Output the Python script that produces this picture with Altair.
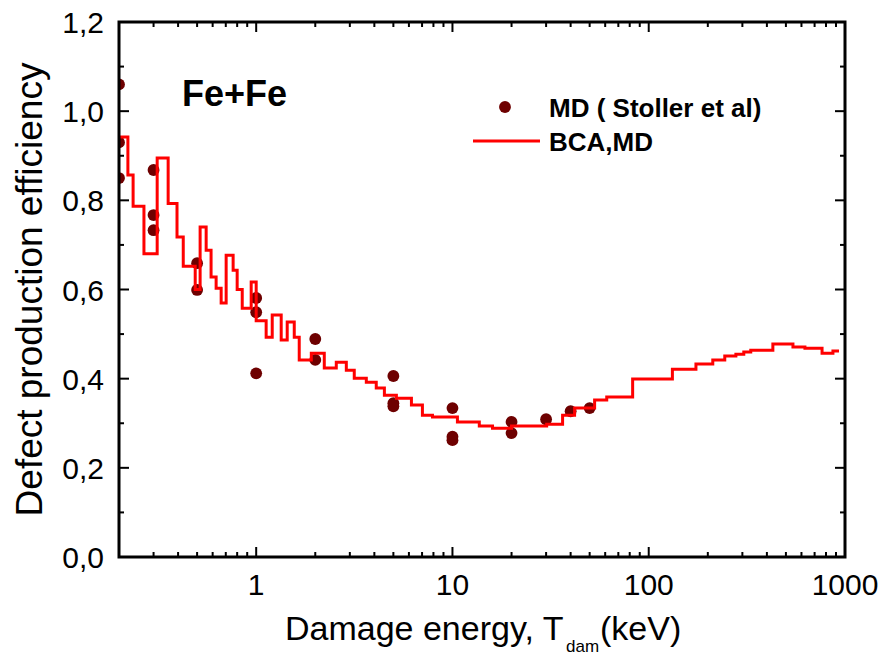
import altair as alt
import pandas as pd

# MD cascade results (Stoller et al.), damage energy in keV
md_energy = [0.2, 0.2, 0.2, 0.3, 0.3, 0.3, 0.5, 0.5, 1, 1, 1, 2, 2,
             5, 5, 5, 10, 10, 10, 20, 20, 30, 40, 50]
md_eff = [1.06, 0.93, 0.85, 0.868, 0.767, 0.733, 0.659, 0.599, 0.581, 0.549, 0.412,
          0.489, 0.442, 0.406, 0.345, 0.338, 0.334, 0.27, 0.262, 0.303, 0.278,
          0.309, 0.327, 0.334]

# BCA,MD curve: left edge of each energy bin (keV) and the efficiency in that bin
bca_energy = [0.2, 0.222, 0.236, 0.268, 0.313, 0.356, 0.395, 0.425, 0.489, 0.518,
              0.556, 0.589, 0.625, 0.663, 0.703, 0.763, 0.800, 0.849, 0.943, 1.0,
              1.124, 1.207, 1.341, 1.439, 1.563, 1.657, 1.909, 2.223, 2.559, 2.879,
              3.16, 3.64, 4.09, 4.50, 5.18, 6.18, 7.03, 7.91, 10.6, 13.7,
              16.0, 20.0, 30.2, 36.4, 41.9, 53.0, 61.1, 82.8, 132, 174,
              212, 244, 278, 305, 331, 429, 543, 625, 764, 868, 932]
bca_eff = [0.942, 0.857, 0.787, 0.68, 0.895, 0.793, 0.718, 0.652, 0.6, 0.74,
           0.688, 0.628, 0.603, 0.57, 0.677, 0.643, 0.6, 0.558, 0.617, 0.53,
           0.493, 0.543, 0.487, 0.527, 0.493, 0.442, 0.457, 0.424, 0.437, 0.419,
           0.401, 0.392, 0.379, 0.363, 0.356, 0.341, 0.318, 0.314, 0.303, 0.294,
           0.289, 0.294, 0.298, 0.318, 0.334, 0.352, 0.359, 0.399, 0.421, 0.433,
           0.442, 0.451, 0.455, 0.46, 0.464, 0.478, 0.471, 0.468, 0.457, 0.462, 0.462]

# axis ticks and labels
x_labels = [1, 10, 100, 1000]
x_label_text = ["1", "10", "100", "1000"]
x_minor = [0.3, 0.4, 0.5, 0.6, 0.7, 0.8, 0.9,
           2, 3, 4, 5, 6, 7, 8, 9,
           20, 30, 40, 50, 60, 70, 80, 90,
           200, 300, 400, 500, 600, 700, 800, 900]
y_labels = [0.0, 0.2, 0.4, 0.6, 0.8, 1.0, 1.2]
y_label_text = ["0,0", "0,2", "0,4", "0,6", "0,8", "1,0", "1,2"]
y_minor = [0.1, 0.3, 0.5, 0.7, 0.9, 1.1]

W, H = 726, 535
FONT = "Liberation Sans"
MAROON = "#6e0000"
RED = "#ff0000"

xs = alt.Scale(type="log", domain=[0.2, 1000], nice=False)
ys = alt.Scale(domain=[0, 1.2], nice=False, zero=False)

md = pd.DataFrame({"E": md_energy, "eff": md_eff})
bca = pd.DataFrame({"E": bca_energy, "eff": bca_eff})
one = pd.DataFrame({"k": [0]})

points = alt.Chart(md).mark_circle(size=140, color=MAROON, opacity=1, clip=True).encode(
    x=alt.X("E:Q", scale=xs, axis=None),
    y=alt.Y("eff:Q", scale=ys, axis=None),
)

line = alt.Chart(bca).mark_line(interpolate="step-after", color=RED, strokeWidth=3,
                                clip=True).encode(
    x=alt.X("E:Q", scale=xs, axis=None),
    y=alt.Y("eff:Q", scale=ys, axis=None),
)


def x_ticks(vals, length):
    df = pd.DataFrame({"v": vals})
    base = alt.Chart(df).mark_rule(color="black", strokeWidth=2)
    bottom = base.encode(x=alt.X("v:Q", scale=xs, axis=None),
                         y=alt.value(H), y2=alt.value(H - length))
    top = base.encode(x=alt.X("v:Q", scale=xs, axis=None),
                      y=alt.value(0), y2=alt.value(length))
    return [bottom, top]


def y_ticks(vals, length):
    df = pd.DataFrame({"v": vals})
    base = alt.Chart(df).mark_rule(color="black", strokeWidth=2)
    left = base.encode(y=alt.Y("v:Q", scale=ys, axis=None),
                       x=alt.value(0), x2=alt.value(length))
    right = base.encode(y=alt.Y("v:Q", scale=ys, axis=None),
                        x=alt.value(W - length), x2=alt.value(W))
    return [left, right]


ticks = (x_ticks(x_labels, 10) + x_ticks(x_minor, 5)
         + y_ticks(y_labels[1:-1], 10) + y_ticks(y_minor, 5))

# tick labels
x_tick_labels = alt.Chart(pd.DataFrame({"v": x_labels, "t": x_label_text})).mark_text(
    font=FONT, fontSize=30, align="center", baseline="alphabetic", color="black"
).encode(x=alt.X("v:Q", scale=xs, axis=None), y=alt.value(H + 38), text="t:N")

y_tick_labels = alt.Chart(pd.DataFrame({"v": y_labels, "t": y_label_text})).mark_text(
    font=FONT, fontSize=30, align="right", baseline="alphabetic", dy=11, color="black"
).encode(y=alt.Y("v:Q", scale=ys, axis=None), x=alt.value(-15), text="t:N")


def label(text, x, y, size, weight="normal", align="left", angle=0, color="black"):
    mark = dict(text=text, font=FONT, fontSize=size, fontWeight=weight,
                align=align, baseline="middle", color=color)
    if angle:
        mark["angle"] = angle
    return alt.Chart(one).mark_text(**mark).encode(x=alt.value(x), y=alt.value(y))


# frame around the plot area
frame = alt.Chart(one).mark_rect(fill=None, stroke="black", strokeWidth=3).encode(
    x=alt.value(0), x2=alt.value(W), y=alt.value(0), y2=alt.value(H))

# legend
leg_point = alt.Chart(one).mark_circle(size=140, color=MAROON, opacity=1).encode(
    x=alt.value(386), y=alt.value(85))
leg_line = alt.Chart(one).mark_rule(color=RED, strokeWidth=3).encode(
    x=alt.value(354), x2=alt.value(421), y=alt.value(119))
leg_md = label("MD ( Stoller et al)", 430, 87, 26, weight="bold")
leg_bca = label("BCA,MD", 430, 121, 26, weight="bold")

system = label("Fe+Fe", 63, 73, 36, weight="bold")

# axis titles (x title carries a subscript)
y_title = label("Defect production efficiency", -88, H / 2, 37, align="center", angle=270)
x_title_main = alt.Chart(one).mark_text(text="Damage energy, T", font=FONT, fontSize=34,
                                        align="left", baseline="alphabetic").encode(
    x=alt.value(166), y=alt.value(618))
x_title_sub = alt.Chart(one).mark_text(text="dam", font=FONT, fontSize=17,
                                       align="left", baseline="alphabetic").encode(
    x=alt.value(447), y=alt.value(630))
x_title_unit = alt.Chart(one).mark_text(text="(keV)", font=FONT, fontSize=34,
                                        align="left", baseline="alphabetic").encode(
    x=alt.value(481), y=alt.value(618))

chart = alt.layer(
    points, line, *ticks, frame, x_tick_labels, y_tick_labels,
    leg_point, leg_line, leg_md, leg_bca, system,
    y_title, x_title_main, x_title_sub, x_title_unit,
).properties(
    width=W, height=H,
    autosize=alt.AutoSizeParams(type="none"),
    padding={"left": 119, "top": 22, "right": 42, "bottom": 100},
    background="white",
).configure_view(stroke=None)

chart.save("out.html", embed_options={"renderer": "svg", "actions": False})
